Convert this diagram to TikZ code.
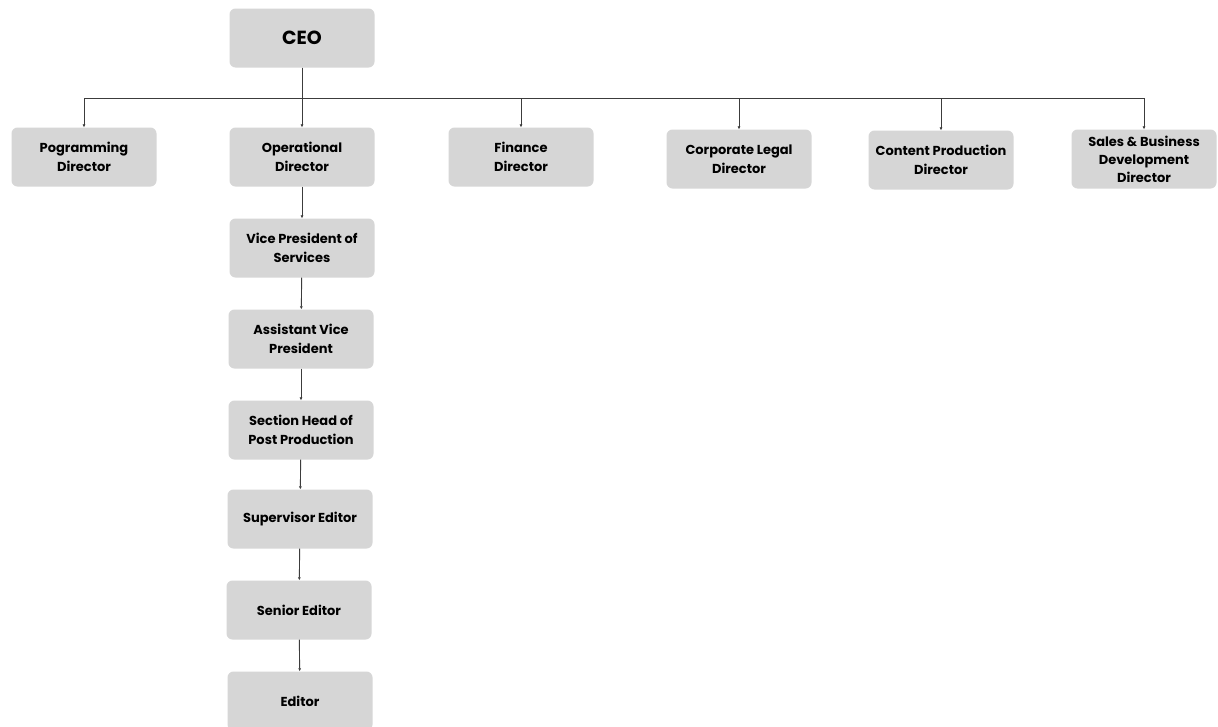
\documentclass[tikz,border=0pt]{standalone}
\usepackage{fontspec}
\setmainfont{Poppins}
\usetikzlibrary{arrows.meta}
\usetikzlibrary{positioning}
\tikzset{post/.style = {fill=boxgray, rounded corners=6pt, minimum width=145pt,
                        minimum height=59pt, align=center, inner sep=2pt,
                        font=\fontsize{13}{19.5}\selectfont\bfseries}}
\tikzset{link/.style = {draw=linegray, line width=0.9pt,
                        -{Latex[length=3pt,width=3pt]}}}
\definecolor{boxgray}{HTML}{D6D6D6}
\definecolor{linegray}{HTML}{3C3C3C}

\begin{document}
\begin{tikzpicture}[x=1pt, y=-1pt]
    \useasboundingbox [fill=white] (0, 0) rectangle (1218, 726);

    \node [post, font=\fontsize{19}{22}\selectfont\bfseries] (ceo) at (302, 38) {CEO};

    % directors
    \node [post] (prog) at (84, 157) {Pogramming\\Director};
    \node [post] (oper) at (302, 157) {Operational\\Director};
    \node [post] (fin) at (521, 157) {Finance\\Director};
    \node [post] (legal) at (739, 159) {Corporate Legal\\Director};
    \node [post] (content) at (941, 160) {Content Production\\Director};
    \node [post, font=\fontsize{13}{18}\selectfont\bfseries] (sales) at (1144, 159)
        {Sales \& Business\\Development\\Director};

    % operational chain
    \node [post] (vps) at (302, 248) {Vice President of\\Services};
    \node [post] (avp) at (301, 339) {Assistant Vice\\President};
    \node [post] (head) at (301, 430) {Section Head of\\Post Production};
    \node [post] (super) at (300, 519) {Supervisor Editor};
    \node [post] (senior) at (299, 610) {Senior Editor};
    \node [post] (editor) at (300, 701) {Editor};

    \coordinate (bus) at (0, 98);

    \draw [link] (ceo.south) -- (ceo.south |- bus) -| (prog.north);
    \draw [link] (ceo.south) -- (oper.north);
    \draw [link] (ceo.south |- bus) -| (fin.north);
    \draw [link] (ceo.south |- bus) -| (legal.north);
    \draw [link] (ceo.south |- bus) -| (content.north);
    \draw [link] (ceo.south |- bus) -| (sales.north);

    \draw [link] (oper) -- (vps);
    \draw [link] (vps) -- (avp);
    \draw [link] (avp) -- (head);
    \draw [link] (head) -- (super);
    \draw [link] (super) -- (senior);
    \draw [link] (senior) -- (editor);

  \end{tikzpicture}
\end{document}
